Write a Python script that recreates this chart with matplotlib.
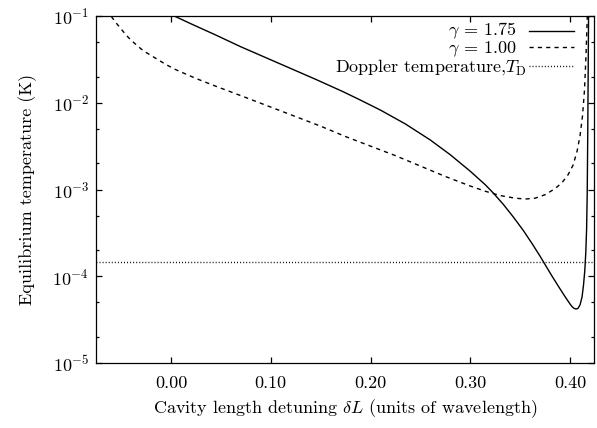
import numpy as np
import matplotlib
matplotlib.use("Agg")
import matplotlib.pyplot as plt
from matplotlib.ticker import FixedLocator, FormatStrFormatter, LogLocator

plt.rcParams['font.family'] = 'serif'
plt.rcParams['font.serif'] = ['cmr10']
plt.rcParams['mathtext.fontset'] = 'cm'
plt.rcParams['axes.formatter.use_mathtext'] = True

# cavity length detuning (units of wavelength) and log10 of temperature (K)
dl_175 = [0.000, 0.0033, 0.020, 0.045, 0.070, 0.092, 0.120, 0.145, 0.172, 0.190,
          0.210, 0.235, 0.260, 0.280, 0.300, 0.315, 0.323, 0.333, 0.343, 0.353,
          0.362, 0.370, 0.376, 0.382, 0.388, 0.393, 0.397, 0.400, 0.402, 0.404,
          0.406, 0.408, 0.410, 0.412, 0.4135, 0.4148, 0.4158, 0.4166, 0.4172,
          0.4177, 0.4182, 0.4186]
logT_175 = [-0.98, -1.00, -1.09, -1.22, -1.355, -1.465, -1.605, -1.73, -1.87, -1.97,
            -2.085, -2.245, -2.43, -2.60, -2.79, -2.945, -3.04, -3.17, -3.315, -3.47,
            -3.625, -3.77, -3.885, -4.00, -4.11, -4.20, -4.27, -4.32, -4.35, -4.37,
            -4.378, -4.37, -4.33, -4.24, -4.10, -3.93, -3.72, -3.45, -3.05,
            -2.40, -1.60, -0.90]

dl_100 = [-0.065, -0.0602, -0.055, -0.050, -0.045, -0.040, -0.035, -0.030, -0.025,
          -0.015, -0.005, 0.005, 0.015, 0.025, 0.045, 0.075, 0.100, 0.125, 0.150,
          0.175, 0.200, 0.225, 0.250, 0.275, 0.300, 0.315, 0.330, 0.345, 0.355,
          0.365, 0.375, 0.385, 0.392, 0.398, 0.403, 0.407, 0.410, 0.4125, 0.4145,
          0.416, 0.417, 0.4176]
logT_100 = [-0.93, -1.00, -1.08, -1.15, -1.22, -1.28, -1.33, -1.38, -1.42,
            -1.49, -1.56, -1.62, -1.67, -1.72, -1.81, -1.94, -2.05, -2.16, -2.27,
            -2.39, -2.50, -2.61, -2.73, -2.85, -2.96, -3.02, -3.07, -3.10, -3.11,
            -3.10, -3.06, -2.99, -2.92, -2.83, -2.72, -2.56, -2.38, -2.15, -1.85,
            -1.45, -1.10, -0.90]

T_doppler = 1.45e-4

x_ticks = [0.0, 0.1, 0.2, 0.3, 0.4]

fig = plt.figure(figsize=(5.97, 4.28), dpi=100)
ax = fig.add_axes([96/597, 1 - 363/428, 497.5/597, 347/428])

ax.plot(dl_175, 10**np.array(logT_175), color='black', lw=1.0)
ax.plot(dl_100, 10**np.array(logT_100), color='black', lw=1.0, dashes=(3, 3))
ax.axhline(T_doppler, color='black', lw=1.0, dashes=(0.7, 1.5))

ax.set_yscale('log')
ax.set_xlim(-0.0752, 0.4235)
ax.set_ylim(1e-5, 1e-1)

ax.xaxis.set_major_locator(FixedLocator(x_ticks))
ax.xaxis.set_major_formatter(FormatStrFormatter('%.2f'))
ax.yaxis.set_major_locator(LogLocator(base=10, numticks=10))
ax.yaxis.set_minor_locator(LogLocator(base=10, subs=(2.0, 5.0), numticks=10))
ax.yaxis.set_minor_formatter(plt.NullFormatter())

ax.tick_params(which='both', direction='in', top=True, right=True, width=0.9)
ax.tick_params(which='major', length=4)
ax.tick_params(which='minor', length=2.3)
ax.tick_params(axis='x', which='major', labelsize=13, pad=9)
ax.tick_params(axis='y', which='major', labelsize=13, pad=5)
for s in ax.spines.values():
    s.set_linewidth(0.9)

ax.set_xlabel(r'Cavity length detuning $\delta L$ (units of wavelength)', fontsize=13, labelpad=5)
ax.set_ylabel('Equilibrium temperature (K)', fontsize=13, labelpad=11)

# gnuplot style key: right-justified labels with samples on the right
key_rows = [(r'$\gamma$ = 1.75', 0.945, 0.957, 0.846, None),
            (r'$\gamma$ = 1.00', 0.8925, 0.911, 0.846, (3, 3)),
            (r'Doppler temperature,$T_\mathrm{D}$', 0.8395, 0.857, 0.866, (0.7, 1.5))]
for label, ty, ly, tx, dash in key_rows:
    ax.text(tx, ty, label, transform=ax.transAxes, ha='right', va='baseline', fontsize=13)
    ln, = ax.plot([0.870, 0.961], [ly, ly], transform=ax.transAxes, color='black', lw=1.0)
    if dash:
        ln.set_dashes(dash)

fig.savefig('out.png', dpi=100)
